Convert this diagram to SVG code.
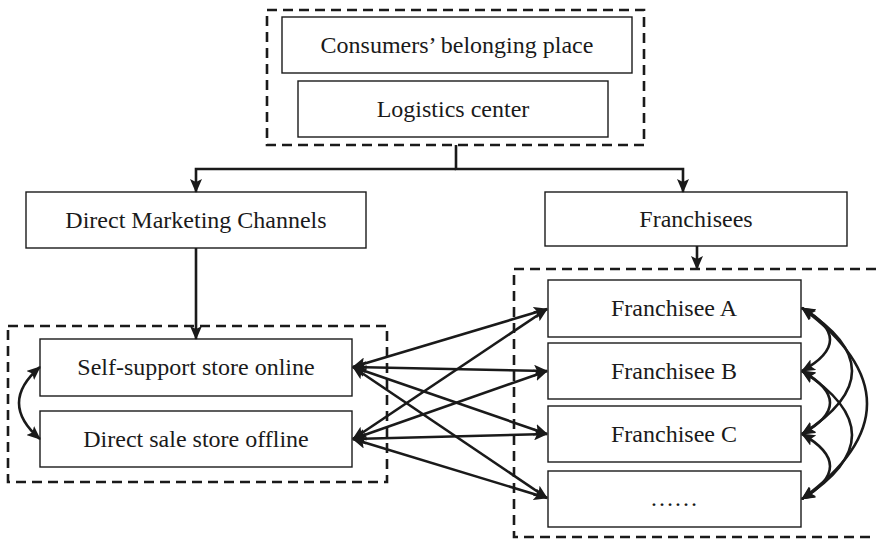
<svg xmlns="http://www.w3.org/2000/svg" width="876" height="541" viewBox="0 0 876 541">
<style>
.box{fill:#fff;stroke:#1a1a1a;stroke-width:1.4}
.dash{fill:none;stroke:#1a1a1a;stroke-width:2.6;stroke-dasharray:10,6}
.t{font-family:"Liberation Serif","Times New Roman",serif;font-size:24px;fill:#1a1a1a;text-anchor:middle}
.c{fill:none;stroke:#1a1a1a;stroke-width:2.6}
.d{marker-start:url(#as);marker-end:url(#ae)}
.e{marker-end:url(#ae)}
</style>
<defs>
<marker id="ae" viewBox="0 0 14 12" refX="13" refY="6" markerWidth="14" markerHeight="12" markerUnits="userSpaceOnUse" orient="auto"><path d="M0,0 L14,6 L0,12 L3,6 Z" fill="#1a1a1a"/></marker>
<marker id="as" viewBox="0 0 14 12" refX="1" refY="6" markerWidth="14" markerHeight="12" markerUnits="userSpaceOnUse" orient="auto"><path d="M14,0 L0,6 L14,12 L11,6 Z" fill="#1a1a1a"/></marker>
</defs>
<rect class="dash" x="267" y="10" width="377" height="135"/>
<rect class="dash" x="8" y="326" width="379" height="156"/>
<rect class="dash" x="514" y="269" width="372" height="268"/>
<g id="n-consumers"><rect class="box" x="282" y="17" width="350" height="56"/><text class="t" x="457" y="53">Consumers’ belonging place</text></g>
<g id="n-logistics"><rect class="box" x="298" y="81" width="310" height="56"/><text class="t" x="453" y="117">Logistics center</text></g>
<g id="n-direct"><rect class="box" x="26" y="192" width="340" height="56"/><text class="t" x="196" y="228">Direct Marketing Channels</text></g>
<g id="n-franchisees"><rect class="box" x="545" y="192" width="302" height="54"/><text class="t" x="696" y="227">Franchisees</text></g>
<g id="n-online"><rect class="box" x="40" y="339" width="312" height="57"/><text class="t" x="196" y="375">Self-support store online</text></g>
<g id="n-offline"><rect class="box" x="40" y="411" width="312" height="56"/><text class="t" x="196" y="447">Direct sale store offline</text></g>
<g id="n-fa"><rect class="box" x="548" y="280" width="253" height="57"/><text class="t" x="674" y="316">Franchisee A</text></g>
<g id="n-fb"><rect class="box" x="548" y="343" width="253" height="56"/><text class="t" x="674" y="379">Franchisee B</text></g>
<g id="n-fc"><rect class="box" x="548" y="406" width="253" height="56"/><text class="t" x="674" y="442">Franchisee C</text></g>
<g id="n-fd"><rect class="box" x="548" y="471" width="253" height="56"/><text class="t" x="674" y="506">……</text></g>
<g id="connectors">
<path class="c" d="M456,145 V169 H683 V192" marker-end="url(#ae)"/>
<path class="c" d="M456,169 H196 V192" marker-end="url(#ae)"/>
<path class="c e" d="M196,248 V339"/>
<path class="c e" d="M697,246 V269"/>
<path class="c d" d="M353,367 L547,309"/>
<path class="c d" d="M353,367 L547,371"/>
<path class="c d" d="M353,367 L547,434"/>
<path class="c d" d="M353,367 L547,498"/>
<path class="c d" d="M353,439 L547,309"/>
<path class="c d" d="M353,439 L547,371"/>
<path class="c d" d="M353,439 L547,434"/>
<path class="c d" d="M353,439 L547,498"/>
<path class="c d" d="M40,367 Q-2,403 40,439"/>
<path class="c d" d="M802,308 Q858,340 802,371"/>
<path class="c d" d="M802,371 Q858,403 802,434"/>
<path class="c d" d="M802,434 Q858,466 802,499"/>
<path class="c d" d="M802,308 Q902,371 802,434"/>
<path class="c d" d="M802,371 Q902,435 802,499"/>
<path class="c d" d="M802,308 Q932,404 802,499"/>
</g>
</svg>
